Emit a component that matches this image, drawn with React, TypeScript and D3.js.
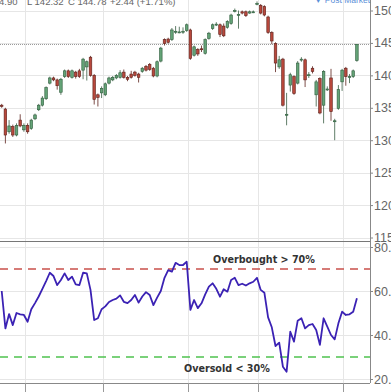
import * as d3 from "d3";
import { useEffect, useRef } from "react";

// daily candles (97 sessions)
const opens = [135.4, 134.8, 131.3, 132.1, 130.8, 133.1, 131.6, 132.3, 131.8, 133.3,
  134.7, 135.4, 136.4, 138.8, 139.6, 139.3, 137.4, 139.8, 140.7, 139.7,
  140.5, 140.7, 140.8, 141.3, 142.8, 140.0, 137.0, 137.3, 137.0, 138.8,
  139.3, 139.6, 139.7, 140.5, 139.7, 140.2, 140.5, 140.2, 140.6, 141.4,
  141.7, 141.1, 139.9, 142.2, 145.5, 145.6, 145.5, 146.7, 146.7, 146.7,
  146.9, 147.0, 143.1, 144.0, 144.1, 143.4, 145.7, 147.2, 147.9, 147.8,
  147.6, 147.4, 148.0, 150.0, 149.4, 149.8, 149.8, 149.6, 149.8, 151.0,
  150.8, 150.6, 149.0, 146.6, 144.9, 141.3, 142.5, 133.9, 138.5, 139.8,
  138.8, 142.5, 142.4, 140.1, 141.1, 137.0, 139.5, 135.4, 137.9, 139.6,
  133.0, 134.9, 139.0, 141.1, 139.8, 139.8, 142.3];
const closes = [135.2, 130.8, 132.2, 130.8, 132.3, 132.2, 132.3, 131.3, 133.1, 133.9,
  135.4, 136.5, 138.1, 139.6, 139.3, 138.4, 139.4, 140.7, 139.8, 140.7,
  139.8, 139.8, 142.5, 142.1, 140.0, 136.3, 136.6, 138.0, 138.7, 139.6,
  139.7, 140.0, 140.4, 139.7, 139.4, 139.7, 140.0, 139.7, 141.1, 140.8,
  140.9, 139.9, 142.1, 144.2, 144.9, 145.1, 147.0, 146.8, 146.7, 146.8,
  147.8, 142.6, 144.4, 143.3, 144.0, 145.5, 146.5, 147.8, 147.9, 146.3,
  146.1, 148.3, 149.3, 150.0, 149.4, 149.6, 149.2, 149.8, 149.8, 151.1,
  149.6, 149.3, 146.6, 145.3, 141.9, 142.4, 135.4, 134.0, 140.1, 137.2,
  141.9, 142.5, 139.3, 140.1, 140.6, 139.0, 134.2, 140.6, 137.9, 134.4,
  133.0, 137.8, 140.8, 139.8, 139.8, 140.7, 144.78];
const highs = [135.6, 135.0, 133.1, 132.4, 132.6, 134.0, 132.6, 132.6, 133.3, 134.1,
  135.6, 136.8, 138.3, 139.8, 139.8, 139.5, 139.6, 140.9, 140.9, 140.9,
  140.7, 141.0, 142.7, 142.3, 143.0, 140.2, 137.2, 138.3, 138.9, 139.8,
  139.9, 140.2, 140.8, 140.9, 139.9, 140.7, 140.7, 140.4, 141.3, 141.6,
  141.9, 141.3, 142.3, 144.4, 145.7, 145.8, 147.3, 147.6, 147.5, 147.4,
  148.0, 147.2, 144.6, 144.2, 144.6, 145.7, 146.7, 148.0, 148.2, 148.0,
  148.0, 148.5, 149.5, 150.3, 150.0, 150.0, 150.0, 150.0, 150.0, 151.4,
  151.0, 150.8, 149.2, 146.8, 145.1, 143.0, 142.7, 137.3, 140.4, 140.0,
  142.2, 142.8, 142.6, 140.5, 141.4, 139.3, 139.7, 140.8, 138.3, 141.0,
  133.3, 138.5, 141.0, 141.3, 140.2, 140.9, 144.8];
const lows = [135.0, 129.5, 131.0, 130.5, 130.6, 132.0, 131.3, 131.0, 131.6, 133.1,
  134.5, 135.2, 136.2, 138.6, 139.1, 137.8, 137.0, 139.6, 139.6, 139.5,
  139.5, 139.6, 139.4, 139.2, 139.8, 135.5, 135.2, 136.5, 136.8, 138.6,
  139.1, 139.4, 139.5, 139.5, 139.1, 139.5, 139.8, 138.9, 140.4, 140.6,
  140.7, 139.7, 139.7, 142.0, 144.6, 144.9, 145.3, 146.4, 146.5, 146.4,
  146.7, 142.4, 142.9, 143.0, 143.6, 143.2, 145.5, 147.0, 147.6, 145.9,
  145.9, 147.2, 147.8, 149.7, 147.2, 149.4, 149.0, 149.5, 149.6, 150.8,
  149.4, 149.1, 146.4, 144.8, 140.5, 141.0, 135.2, 132.3, 137.5, 137.0,
  138.6, 142.1, 138.2, 139.6, 140.3, 135.2, 134.0, 132.6, 137.6, 133.0,
  130.0, 134.7, 137.6, 138.4, 138.8, 139.6, 142.1];

// RSI(14) per session
const rsiValues = [60, 43, 49.5, 44.5, 50, 49.4, 49.1, 46, 51.7, 54.5,
  57.5, 61, 64.5, 68.3, 66.8, 62.7, 65, 68, 65, 66.5,
  63, 62.7, 68.3, 68, 60.5, 46.8, 47.6, 51.7, 53, 55,
  55.9, 56.5, 58, 55.1, 54.5, 55.9, 58.2, 54.7, 57.5, 59.5,
  58.2, 53.6, 57, 60, 66, 69.5, 68.8, 72.8, 71.8, 71.8,
  73.3, 51.4, 55.9, 52.2, 54.4, 58.5, 62, 63.5, 61, 57.4,
  60.8, 59.7, 65, 66, 62.7, 63.3, 62.5, 63.5, 64.2, 66,
  60.5, 59.2, 48, 43.5, 35, 36.5, 25.6, 23.3, 41.5, 37,
  46.5, 47.6, 43, 44.5, 45, 42.3, 35.5, 47.6, 43.8, 40,
  38, 45.3, 50.6, 49.1, 49.4, 50.6, 56.7];

const priceTicks = [115, 120, 125, 130, 135, 140, 145, 150];
const rsiTicks = [20, 40, 60, 80];
const monthStarts = [6, 27, 50, 69, 92];
const lastClose = 144.78;
const overbought = 70;
const oversold = 30;

const W = 391;
const H = 392;
const plotRight = 370;
const priceBottom = 242;
const rsiBottom = 383;

export default function App() {
  const ref = useRef<SVGSVGElement>(null);

  useEffect(() => {
    const svg = d3.select(ref.current);
    svg.selectAll("*").remove();

    const idx = d3.range(closes.length);
    const x = d3.scaleBand<number>().domain(idx).range([-0.15, 358.75]).paddingInner(0.3).paddingOuter(0.15);
    const bw = x.bandwidth();
    const cx = (i: number) => (x(i) as number) + bw / 2;

    const y = d3.scaleLinear().domain([115, 150]).range([237.5, 10.5]);
    const yr = d3.scaleLinear().domain([20, 80]).range([379, 247]);

    svg.append("defs").append("clipPath").attr("id", "pclip")
      .append("rect").attr("x", 0).attr("y", 0).attr("width", plotRight).attr("height", priceBottom);

    // grid
    const grid = svg.append("g").attr("stroke", "#e6e6e6").attr("stroke-width", 1);
    grid.selectAll("line.h").data(priceTicks).enter().append("line")
      .attr("x1", 0).attr("x2", plotRight)
      .attr("y1", (d) => Math.round(y(d)) + 0.5).attr("y2", (d) => Math.round(y(d)) + 0.5);
    grid.selectAll("line.r").data(rsiTicks).enter().append("line")
      .attr("x1", 0).attr("x2", plotRight)
      .attr("y1", (d) => Math.round(yr(d)) + 0.5).attr("y2", (d) => Math.round(yr(d)) + 0.5);
    grid.selectAll("line.v").data(monthStarts).enter().append("line")
      .attr("x1", (d) => Math.round(cx(d) + bw / 2) + 0.5).attr("x2", (d) => Math.round(cx(d) + bw / 2) + 0.5)
      .attr("y1", 0).attr("y2", rsiBottom);

    // last close dotted line
    svg.append("line")
      .attr("x1", 0).attr("x2", plotRight)
      .attr("y1", Math.round(y(lastClose)) + 0.5).attr("y2", Math.round(y(lastClose)) + 0.5)
      .attr("stroke", "#9a9a9a").attr("stroke-dasharray", "1,1");

    // candles
    const candles = svg.append("g").attr("clip-path", "url(#pclip)")
      .selectAll("g").data(idx).enter().append("g");
    const up = (i: number) => closes[i] >= opens[i];
    candles.append("line")
      .attr("x1", (i) => cx(i)).attr("x2", (i) => cx(i))
      .attr("y1", (i) => y(highs[i])).attr("y2", (i) => y(lows[i]))
      .attr("stroke", (i) => (up(i) ? "#4f6f58" : "#6e3a34"))
      .attr("stroke-width", 0.9);
    candles.append("rect")
      .attr("x", (i) => x(i) as number)
      .attr("width", bw)
      .attr("y", (i) => y(Math.max(opens[i], closes[i])))
      .attr("height", (i) => Math.max(1, Math.abs(y(opens[i]) - y(closes[i]))))
      .attr("fill", (i) => (up(i) ? "#64a377" : "#b8483c"))
      .attr("stroke", (i) => (up(i) ? "#2f5c3c" : "#5e211b"))
      .attr("stroke-width", 0.6);

    // panel separator
    svg.append("line").attr("x1", 0).attr("x2", plotRight)
      .attr("y1", priceBottom - 0.5).attr("y2", priceBottom - 0.5)
      .attr("stroke", "#777").attr("stroke-width", 1);

    // RSI thresholds
    svg.append("line").attr("x1", 0).attr("x2", plotRight)
      .attr("y1", yr(overbought)).attr("y2", yr(overbought))
      .attr("stroke", "#c9504b").attr("stroke-width", 1.6).attr("stroke-dasharray", "8,6");
    svg.append("line").attr("x1", 0).attr("x2", plotRight)
      .attr("y1", yr(oversold)).attr("y2", yr(oversold))
      .attr("stroke", "#4fc24f").attr("stroke-width", 1.6).attr("stroke-dasharray", "8,6");

    // RSI line
    const line = d3.line<number>().x((i) => cx(i)).y((i) => yr(rsiValues[i]));
    svg.append("path").datum(idx)
      .attr("d", line)
      .attr("fill", "none")
      .attr("stroke", "#3b22b4")
      .attr("stroke-width", 1.8)
      .attr("stroke-linejoin", "round");

    svg.append("text").attr("x", 213).attr("y", 262.5)
      .attr("font-family", "DejaVu Sans").attr("font-weight", "bold").attr("font-size", 9.6)
      .attr("fill", "#333").text("Overbought > 70%");
    svg.append("text").attr("x", 184).attr("y", 371.5)
      .attr("font-family", "DejaVu Sans").attr("font-weight", "bold").attr("font-size", 9.6)
      .attr("fill", "#333").text("Oversold < 30%");

    // bottom axis
    svg.append("line").attr("x1", 0).attr("x2", plotRight)
      .attr("y1", rsiBottom + 0.5).attr("y2", rsiBottom + 0.5).attr("stroke", "#888");
    svg.selectAll("line.bt").data(monthStarts).enter().append("line")
      .attr("x1", (d) => Math.round(cx(d) + bw / 2) + 0.5).attr("x2", (d) => Math.round(cx(d) + bw / 2) + 0.5)
      .attr("y1", rsiBottom).attr("y2", H).attr("stroke", "#999");

    // right axes
    svg.append("line").attr("x1", plotRight + 0.5).attr("x2", plotRight + 0.5)
      .attr("y1", 0).attr("y2", rsiBottom).attr("stroke", "#888");
    const pAxis = svg.append("g").attr("transform", `translate(${plotRight},0)`)
      .call(d3.axisRight(y).tickValues(priceTicks).tickSize(3).tickPadding(1).tickFormat(d3.format("d")));
    const rAxis = svg.append("g").attr("transform", `translate(${plotRight},0)`)
      .call(d3.axisRight(yr).tickValues(rsiTicks).tickSize(3).tickPadding(1).tickFormat(d3.format(".1f")));
    [pAxis, rAxis].forEach((g) => {
      g.select(".domain").remove();
      g.selectAll(".tick line").attr("stroke", "#888");
      g.selectAll(".tick text").attr("fill", "#666").attr("font-size", 12.5)
        .attr("font-family", "Liberation Sans, Arial, sans-serif");
    });

    // header
    const header = svg.append("g").attr("font-family", "Liberation Sans, Arial, sans-serif")
      .attr("font-size", 9.5).attr("fill", "#666");
    header.append("text").attr("x", -1).attr("y", 5).text("4.90");
    header.append("text").attr("x", 27).attr("y", 5).text("L 142.32");
    header.append("text").attr("x", 68).attr("y", 5).text("C 144.78");
    header.append("text").attr("x", 110).attr("y", 5).text("+2.44 (+1.71%)");
    svg.append("text").attr("x", 314).attr("y", 3)
      .attr("font-family", "Liberation Sans, Arial, sans-serif").attr("font-size", 8.5)
      .attr("fill", "#5b8fd8").text("▼ Post Market");
  }, []);

  return (
    <svg
      ref={ref}
      width={W}
      height={H}
      style={{ position: "absolute", left: 0, top: 0, background: "#fff" }}
    />
  );
}
